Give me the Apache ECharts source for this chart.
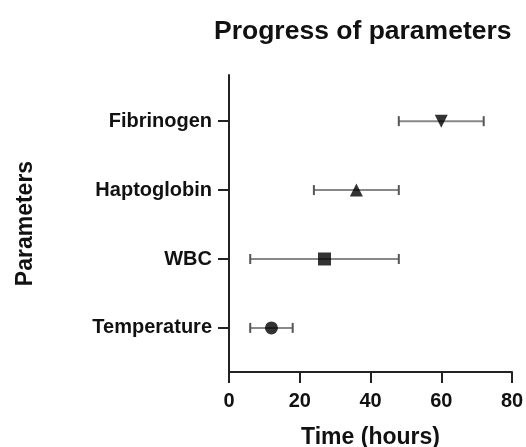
<!DOCTYPE html>
<html>
<head>
<meta charset="utf-8">
<script src="https://cdn.jsdelivr.net/npm/echarts@6/dist/echarts.min.js"></script>
<style>
  html, body { margin: 0; padding: 0; background: #fff; }
  #chart { width: 526px; height: 447px; }
</style>
</head>
<body>
<div id="chart"></div>
<script>
  // categories bottom -> top (position 1..4 on the y axis)
  var parameters = ['Temperature', 'WBC', 'Haptoglobin', 'Fibrinogen'];
  var meanTime = [12, 27, 36, 60];
  var lowTime = [6, 6, 24, 48];
  var highTime = [18, 48, 48, 72];
  var markers = ['circle', 'rect', 'triangle', 'triangle'];
  var markerRotate = [0, 0, 0, 180];
  var xTicks = [0, 20, 40, 60, 80];

  var font = '"Liberation Sans", Arial, sans-serif';
  var myChart = echarts.init(document.getElementById('chart'));

  var pointData = parameters.map(function (name, i) {
    return {
      value: [meanTime[i], i + 1],
      symbol: markers[i],
      symbolRotate: markerRotate[i]
    };
  });
  var barData = parameters.map(function (name, i) {
    return [lowTime[i], highTime[i], i + 1];
  });

  var option = {
    animation: false,
    title: {
      text: 'Progress of parameters',
      left: 209,
      top: 13,
      textStyle: { color: '#111', fontFamily: font, fontWeight: 'bold', fontSize: 26.5 }
    },
    grid: { left: 229, right: 14, top: 75, bottom: 75, outerBoundsMode: 'none', containLabel: false },
    xAxis: {
      type: 'value',
      min: xTicks[0],
      max: xTicks[xTicks.length - 1],
      interval: 20,
      name: 'Time (hours)',
      nameLocation: 'middle',
      nameGap: 54,
      nameTextStyle: { color: '#111', fontFamily: font, fontWeight: 'bold', fontSize: 23 },
      axisLine: { show: true, lineStyle: { color: '#222', width: 2 } },
      axisTick: { show: true, length: 11, lineStyle: { color: '#222', width: 2 } },
      axisLabel: { color: '#111', fontFamily: font, fontWeight: 'bold', fontSize: 20, margin: 19 },
      splitLine: { show: false }
    },
    yAxis: {
      type: 'value',
      min: 0.36,
      max: 4.67,
      name: 'Parameters',
      nameLocation: 'middle',
      nameGap: 192,
      nameTextStyle: { color: '#111', fontFamily: font, fontWeight: 'bold', fontSize: 23 },
      axisLine: { show: true, onZero: false, lineStyle: { color: '#222', width: 2 } },
      axisTick: { show: true, length: 11, lineStyle: { color: '#222', width: 2 }, customValues: [1, 2, 3, 4] },
      axisLabel: {
        color: '#111', fontFamily: font, fontWeight: 'bold', fontSize: 20, margin: 17,
        customValues: [1, 2, 3, 4],
        formatter: function (v) { return parameters[Math.round(v) - 1] || ''; }
      },
      splitLine: { show: false }
    },
    series: [
      {
        type: 'custom',
        renderItem: function (params, api) {
          var y = api.value(2);
          var a = api.coord([api.value(0), y]);
          var b = api.coord([api.value(1), y]);
          var cap = 5;
          var capStyle = { stroke: '#555', lineWidth: 2 };
          return {
            type: 'group',
            children: [
              { type: 'line', shape: { x1: a[0], y1: a[1], x2: b[0], y2: b[1] }, style: { stroke: '#888', lineWidth: 2 } },
              { type: 'line', shape: { x1: a[0], y1: a[1] - cap, x2: a[0], y2: a[1] + cap }, style: capStyle },
              { type: 'line', shape: { x1: b[0], y1: b[1] - cap, x2: b[0], y2: b[1] + cap }, style: capStyle }
            ]
          };
        },
        encode: { x: [0, 1], y: 2 },
        data: barData,
        z: 2
      },
      {
        type: 'scatter',
        symbolSize: 13,
        itemStyle: { color: '#000' },
        data: pointData,
        z: 3
      }
    ]
  };
  myChart.setOption(option);
</script>
</body>
</html>
